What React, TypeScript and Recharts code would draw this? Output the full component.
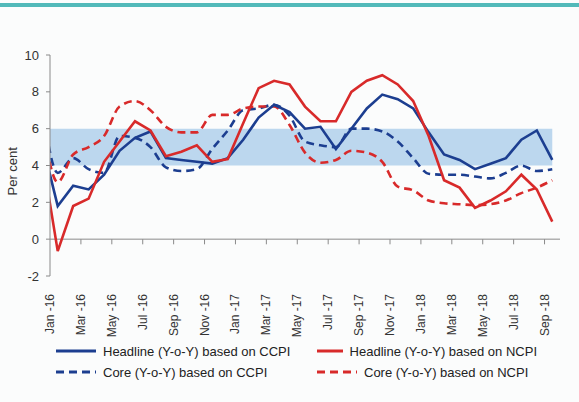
import React from "react";
import {
  LineChart,
  Line,
  XAxis,
  YAxis,
  ReferenceArea,
  ReferenceLine,
} from "recharts";

// Dec-15 is only there so the lines run in from the left edge, it's clipped off
const months = [
  "Dec -15",
  "Jan -16", "Feb -16", "Mar -16", "Apr -16", "May -16", "Jun -16",
  "Jul -16", "Aug -16", "Sep -16", "Oct -16", "Nov -16", "Dec -16",
  "Jan -17", "Feb -17", "Mar -17", "Apr -17", "May -17", "Jun -17",
  "Jul -17", "Aug -17", "Sep -17", "Oct -17", "Nov -17", "Dec -17",
  "Jan -18", "Feb -18", "Mar -18", "Apr -18", "May -18", "Jun -18",
  "Jul -18", "Aug -18", "Sep -18",
];

const headlineCCPI = [
  5.2, 1.8, 2.9, 2.7, 3.5, 4.8, 5.5, 5.85, 4.4, 4.3, 4.2, 4.1, 4.4,
  5.4, 6.6, 7.3, 6.9, 6.0, 6.1, 4.9, 6.0, 7.1, 7.85, 7.6, 7.1,
  5.8, 4.6, 4.3, 3.8, 4.1, 4.4, 5.4, 5.9, 4.3,
];
const headlineNCPI = [
  4.5, -0.65, 1.8, 2.2, 4.2, 5.3, 6.4, 5.9, 4.5, 4.75, 5.1, 4.2, 4.35,
  6.3, 8.2, 8.6, 8.4, 7.2, 6.4, 6.4, 8.0, 8.6, 8.9, 8.4, 7.5,
  5.6, 3.2, 2.8, 1.7, 2.1, 2.6, 3.5, 2.7, 0.95,
];
const coreCCPI = [
  7.2, 3.6, 4.4, 3.8, 3.6, 5.6, 5.5, 5.0, 3.9, 3.7, 3.8, 4.9, 5.9,
  7.0, 7.1, 7.3, 6.7, 5.3, 5.1, 5.0, 6.0, 6.0, 5.85, 5.3, 4.4,
  3.55, 3.5, 3.5, 3.4, 3.3, 3.6, 4.0, 3.7, 3.8,
];
const coreNCPI = [
  6.3, 3.1, 4.6, 5.0, 5.6, 7.2, 7.5, 7.0, 6.1, 5.8, 5.8, 6.75, 6.75,
  7.1, 7.2, 7.2, 6.2, 4.7, 4.15, 4.3, 4.8, 4.7, 4.2, 2.85, 2.65,
  2.1, 1.95, 1.9, 1.85, 1.9, 2.1, 2.5, 2.8, 3.2,
];

const tickLabels = [
  "Jan -16", "Mar -16", "May -16", "Jul -16", "Sep -16", "Nov -16",
  "Jan -17", "Mar -17", "May -17", "Jul -17", "Sep -17", "Nov -17",
  "Jan -18", "Mar -18", "May -18", "Jul -18", "Sep -18",
];
const yTicks = [-2, 0, 2, 4, 6, 8, 10];

const data = months.map((m, i) => ({
  idx: i - 1,
  month: m,
  headlineCCPI: headlineCCPI[i],
  headlineNCPI: headlineNCPI[i],
  coreCCPI: coreCCPI[i],
  coreNCPI: coreNCPI[i],
}));

// ticks sit on the boundary before each labelled month
const xTicks = tickLabels.map((t) => months.indexOf(t) - 1.5);

const FONT = '"Liberation Sans", Arial, sans-serif';
const BLUE = "#1c3e90";
const RED = "#d82a2a";
const AXIS = "#8a8a8a";

const XTick = ({ x, y, payload }: any) => {
  const label = tickLabels[xTicks.indexOf(payload.value)];
  return (
    <text
      x={x}
      y={y}
      dx={-10}
      dy={4}
      transform={`rotate(-90, ${x}, ${y})`}
      textAnchor="end"
      fontSize={12}
      fontFamily={FONT}
      fill="#333"
    >
      {label}
    </text>
  );
};

const legendItems = [
  { name: "Headline (Y-o-Y) based on CCPI", color: BLUE, dash: undefined },
  { name: "Headline (Y-o-Y) based on NCPI", color: RED, dash: undefined },
  { name: "Core (Y-o-Y) based on CCPI", color: BLUE, dash: "8 5" },
  { name: "Core (Y-o-Y) based on NCPI", color: RED, dash: "8 5" },
];

const ChartLegend = () => (
  <div
    style={{
      position: "absolute",
      left: 56,
      top: 342,
      display: "grid",
      gridTemplateColumns: "261px 220px",
      rowGap: 3,
      fontFamily: FONT,
      fontSize: 13,
      color: "#222",
    }}
  >
    {legendItems.map((it) => (
      <div key={it.name} style={{ display: "flex", alignItems: "center", height: 18 }}>
        <svg width={40} height={6} style={{ marginRight: 7 }}>
          <line
            x1={0}
            y1={3}
            x2={40}
            y2={3}
            stroke={it.color}
            strokeWidth={3}
            strokeDasharray={it.dash}
          />
        </svg>
        <span style={{ whiteSpace: "nowrap" }}>{it.name}</span>
      </div>
    ))}
  </div>
);

export default function App() {
  return (
    <div
      style={{
        position: "absolute",
        left: 0,
        top: 0,
        width: 579,
        height: 402,
        background: "#fbfcfc",
      }}
    >
      <div
        style={{
          position: "absolute",
          left: 0,
          top: 3,
          width: 579,
          height: 4,
          background: "#52b9b9",
        }}
      />
      <LineChart
        width={579}
        height={402}
        data={data}
        margin={{ top: 55, right: 19, bottom: 56, left: 0 }}
      >
        <ReferenceArea
          x1={-0.5}
          x2={32}
          y1={4}
          y2={6}
          fill="#bcd7ee"
          fillOpacity={1}
          stroke="none"
        />
        <XAxis
          type="number"
          dataKey="idx"
          domain={[-0.5, 32.5]}
          allowDataOverflow
          ticks={xTicks}
          interval={0}
          tick={<XTick />}
          axisLine={false}
          tickLine={false}
          height={70}
        />
        <YAxis
          domain={[-2, 10]}
          ticks={yTicks}
          width={50}
          tickSize={4}
          tickMargin={7}
          axisLine={{ stroke: AXIS }}
          tickLine={{ stroke: AXIS }}
          tick={{ fill: "#333", fontSize: 13, fontFamily: FONT }}
          label={{
            value: "Per cent",
            angle: -90,
            position: "insideLeft",
            offset: 12,
            dy: 30,
            style: { fill: "#333", fontSize: 13, fontFamily: FONT },
          }}
        />
        <ReferenceLine y={0} stroke={AXIS} />
        {xTicks.slice(1).map((t) => (
          <ReferenceLine
            key={t}
            segment={[
              { x: t, y: 0 },
              { x: t, y: -0.28 },
            ]}
            stroke={AXIS}
          />
        ))}
        <Line
          dataKey="coreCCPI"
          name="Core (Y-o-Y) based on CCPI"
          type="monotone"
          stroke={BLUE}
          strokeWidth={2.6}
          strokeDasharray="8 5"
          dot={false}
          isAnimationActive={false}
        />
        <Line
          dataKey="coreNCPI"
          name="Core (Y-o-Y) based on NCPI"
          type="monotone"
          stroke={RED}
          strokeWidth={2.6}
          strokeDasharray="8 5"
          dot={false}
          isAnimationActive={false}
        />
        <Line
          dataKey="headlineCCPI"
          name="Headline (Y-o-Y) based on CCPI"
          type="linear"
          stroke={BLUE}
          strokeWidth={2.6}
          dot={false}
          isAnimationActive={false}
        />
        <Line
          dataKey="headlineNCPI"
          name="Headline (Y-o-Y) based on NCPI"
          type="linear"
          stroke={RED}
          strokeWidth={2.6}
          dot={false}
          isAnimationActive={false}
        />
      </LineChart>
      <ChartLegend />
    </div>
  );
}
